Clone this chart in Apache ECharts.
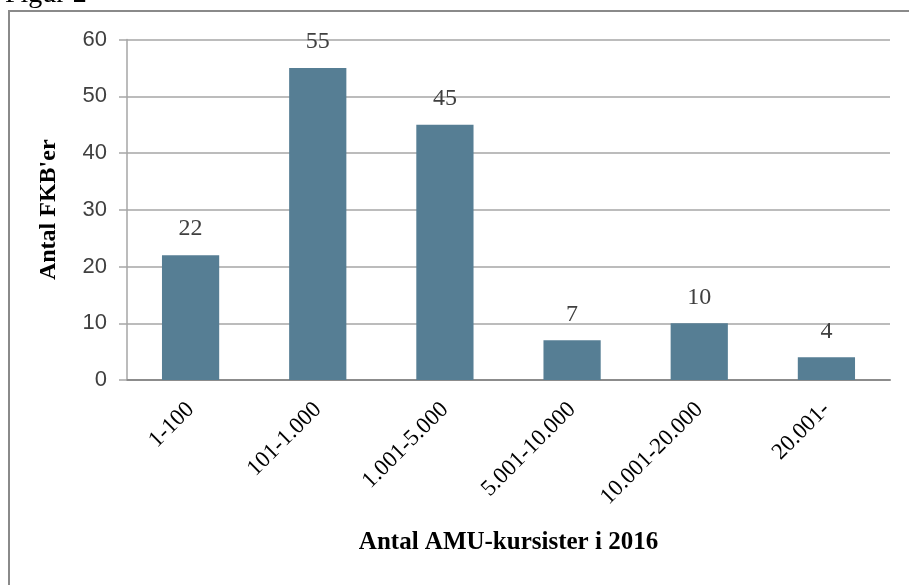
<!DOCTYPE html>
<html>
<head>
<meta charset="utf-8">
<script src="https://cdn.jsdelivr.net/npm/echarts@6/dist/echarts.min.js"></script>
<style>html,body{margin:0;padding:0;background:#fff}#c{width:909px;height:585px}</style>
</head>
<body>
<div id="c"></div>
<script>
var categories = ['1-100', '101-1.000', '1.001-5.000', '5.001-10.000', '10.001-20.000', '20.001-'];
var values = [22, 55, 45, 7, 10, 4];
var yTicks = [0, 10, 20, 30, 40, 50, 60];
var xTitle = 'Antal AMU-kursister i 2016';
var yTitle = "Antal FKB'er";
var figTitle = 'Figur 2';

var chart = echarts.init(document.getElementById('c'), null, {renderer: 'canvas'});
chart.setOption({
  animation: false,
  backgroundColor: '#fff',
  graphic: [
    {type: 'rect', shape: {x: 9, y: 11, width: 920, height: 600}, style: {fill: 'none', stroke: '#8a8a8a', lineWidth: 2}, z: -1},
    {type: 'text', left: 5, top: -19, style: {text: figTitle, font: '28px "Liberation Serif"', fill: '#000'}}
  ],
  grid: {left: 127, right: 19, top: 39.5, bottom: 205, containLabel: false},
  xAxis: {
    type: 'category',
    data: categories,
    axisLine: {lineStyle: {color: '#8c8c8c', width: 2}},
    axisTick: {show: false},
    axisLabel: {rotate: 45, margin: 26, color: '#000', fontFamily: 'Liberation Serif', fontSize: 23, interval: 0},
    name: xTitle,
    nameLocation: 'middle',
    nameGap: 150,
    nameTextStyle: {color: '#000', fontFamily: 'Liberation Serif', fontWeight: 'bold', fontSize: 25}
  },
  yAxis: {
    type: 'value',
    min: yTicks[0],
    max: yTicks[yTicks.length - 1],
    interval: 10,
    axisLine: {show: true, lineStyle: {color: '#a6a6a6', width: 1.5}},
    axisTick: {show: true, length: 8, lineStyle: {color: '#a6a6a6', width: 1.5}},
    splitLine: {lineStyle: {color: '#a6a6a6', width: 1.5}},
    axisLabel: {margin: 20, color: '#404040', fontFamily: 'Liberation Sans', fontSize: 22},
    name: yTitle,
    nameLocation: 'middle',
    nameGap: 66,
    nameTextStyle: {color: '#000', fontFamily: 'Liberation Serif', fontWeight: 'bold', fontSize: 24}
  },
  series: [{
    type: 'bar',
    data: values,
    barWidth: '45%',
    itemStyle: {color: '#567e94'},
    label: {show: true, position: 'top', distance: 14, color: '#404040', fontFamily: 'Liberation Serif', fontSize: 24}
  }]
});
</script>
</body>
</html>
